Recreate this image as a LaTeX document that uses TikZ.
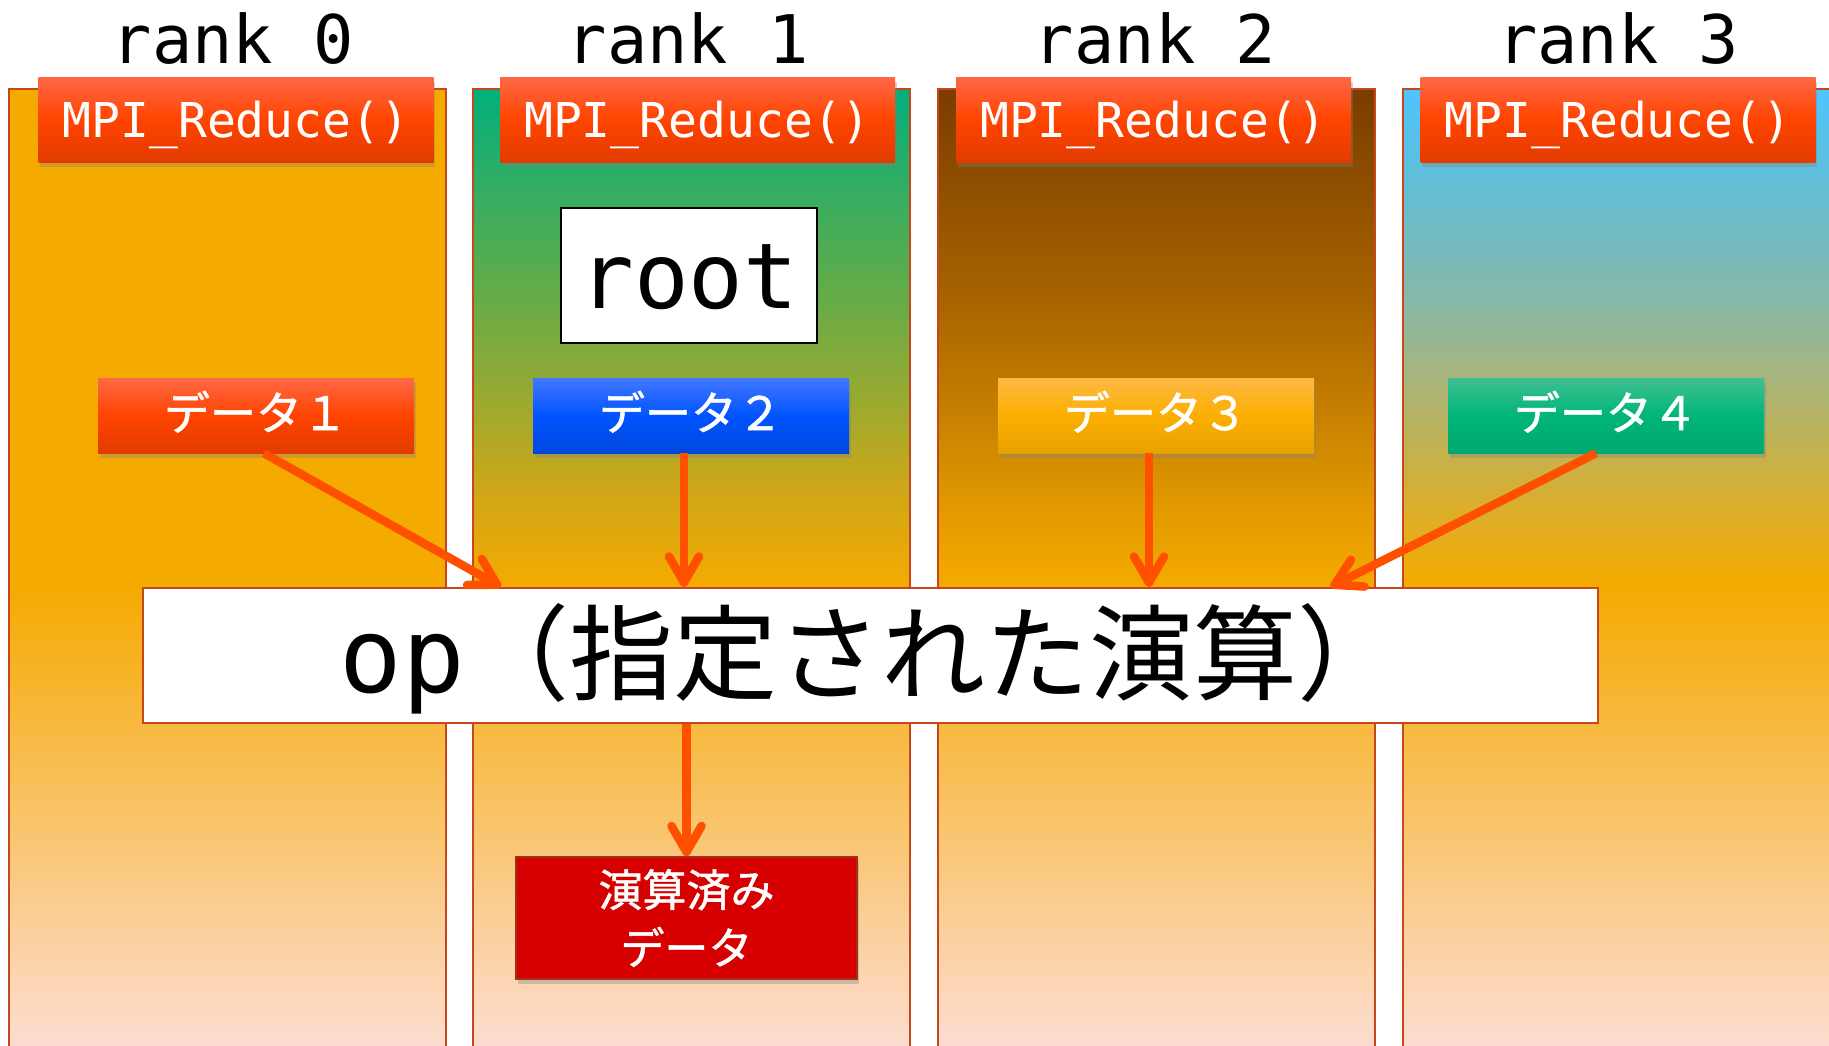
\documentclass[tikz,border=0pt]{standalone}
\usepackage{fontspec}
\newfontfamily\mono{DejaVu Sans Mono}
\newfontfamily\cjk{Noto Sans CJK JP}
\newfontfamily\cjkb[FakeBold=1.2]{Noto Sans CJK JP}
\usetikzlibrary{arrows.meta,shadows}
\definecolor{orA}{HTML}{F5AA00}
\definecolor{lowB}{HTML}{FDDDD2}
\definecolor{colline}{HTML}{C8461C}
\definecolor{arrc}{HTML}{FF5000}
\definecolor{mpiT}{HTML}{FF6846}
\definecolor{mpiM}{HTML}{FF4400}
\definecolor{mpiB}{HTML}{E23B00}
\definecolor{bluT}{HTML}{4477FF}
\definecolor{bluM}{HTML}{0055FF}
\definecolor{bluB}{HTML}{0047DD}
\definecolor{yelT}{HTML}{FDB844}
\definecolor{yelM}{HTML}{FCAF00}
\definecolor{yelB}{HTML}{E8A100}
\definecolor{grnT}{HTML}{40C090}
\definecolor{grnM}{HTML}{00B57A}
\definecolor{grnB}{HTML}{00A870}
\definecolor{resfill}{HTML}{D60000}
\definecolor{resline}{HTML}{A0301A}
\definecolor{g1}{HTML}{00B07A}
\definecolor{g2}{HTML}{35AD63}
\definecolor{g3}{HTML}{62AC48}
\definecolor{g4}{HTML}{95AA33}
\definecolor{g5}{HTML}{CFA718}
\definecolor{b1}{HTML}{7A3C00}
\definecolor{b2}{HTML}{8A4A00}
\definecolor{b3}{HTML}{A86400}
\definecolor{b4}{HTML}{C47C00}
\definecolor{b5}{HTML}{E09800}
\definecolor{c1}{HTML}{4FC4FF}
\definecolor{c2}{HTML}{5CBFE0}
\definecolor{c3}{HTML}{88B8A8}
\definecolor{c4}{HTML}{B0B46E}
\definecolor{c5}{HTML}{D9AE30}
\pgfdeclareverticalshading{shA}{100bp}{color(0bp)=(lowB); color(25bp)=(lowB); color(49.17bp)=(orA); color(75bp)=(orA); color(100bp)=(orA)}
\pgfdeclareverticalshading{shB}{100bp}{color(0bp)=(lowB); color(25bp)=(lowB); color(49.17bp)=(orA); color(54.11bp)=(g5); color(59.30bp)=(g4); color(64.50bp)=(g3); color(69.70bp)=(g2); color(75bp)=(g1); color(100bp)=(g1)}
\pgfdeclareverticalshading{shC}{100bp}{color(0bp)=(lowB); color(25bp)=(lowB); color(49.17bp)=(orA); color(53.59bp)=(b5); color(58.78bp)=(b4); color(63.98bp)=(b3); color(71.26bp)=(b2); color(75bp)=(b1); color(100bp)=(b1)}
\pgfdeclareverticalshading{shD}{100bp}{color(0bp)=(lowB); color(25bp)=(lowB); color(49.17bp)=(orA); color(53.59bp)=(c5); color(58.78bp)=(c4); color(63.98bp)=(c3); color(71.26bp)=(c2); color(75bp)=(c1); color(100bp)=(c1)}
\begin{document}
\begin{tikzpicture}[x=1pt,y=-1pt,
  colbox/.style={draw=colline, line width=2pt, minimum width=437pt, minimum height=962pt, anchor=north west, inner sep=0pt},
  ranklbl/.style={font=\mono\fontsize{67}{80}\selectfont, anchor=base, inner sep=0pt},
  shad/.style={drop shadow={shadow xshift=1.5pt, shadow yshift=-5pt, opacity=.35}},
  mpibox/.style={shad, top color=mpiT, bottom color=mpiB, middle color=mpiM, minimum width=395pt, minimum height=85pt, inner sep=0pt, text=white, font=\mono\fontsize{48}{58}\selectfont, text height=35pt, text depth=0pt},
  databox/.style={shad, minimum width=316pt, minimum height=75pt, inner sep=0pt, text=white, font=\cjkb\fontsize{46}{54}\selectfont, text height=29pt, text depth=0pt},
  arrline/.style={draw=arrc, line width=8.5pt, -{Straight Barb[length=26pt,width=30pt,round]}}
]
\clip (0,0) rectangle (1829,1045);
\fill[white] (0,0) rectangle (1829,1045);
% columns
\node[colbox, shading=shA] (col0) at (8,88) {};
\node[colbox, shading=shB] (col1) at (472,88) {};
\node[colbox, shading=shC] (col2) at (937,88) {};
\node[colbox, shading=shD] (col3) at (1402,88) {};
% rank labels
\node[ranklbl] (r0) at (233,63) {rank 0};
\node[ranklbl] (r1) at (688,63) {rank 1};
\node[ranklbl] (r2) at (1155,63) {rank 2};
\node[ranklbl] (r3) at (1618,63) {rank 3};
% MPI boxes
\node[mpibox] (m0) at (236,119.5) {MPI\_Reduce()};
\node[mpibox] (m1) at (697.5,119.5) {MPI\_Reduce()};
\node[mpibox] (m2) at (1153.5,119.5) {MPI\_Reduce()};
\node[mpibox] (m3) at (1618,119.5) {MPI\_Reduce()};
% root
\node[draw=black, fill=white, line width=1.5pt, minimum width=256pt, minimum height=135pt, inner sep=0pt,
  font=\mono\fontsize{91}{100}\selectfont, text height=65pt, text depth=0pt] (root) at (689,275.5) {root};
% data boxes
\node[databox, top color=mpiT, bottom color=mpiB, middle color=mpiM] (d1) at (256,415.5) {データ１};
\node[databox, top color=bluT, bottom color=bluB, middle color=bluM] (d2) at (691,415.5) {データ２};
\node[databox, top color=yelT, bottom color=yelB, middle color=yelM] (d3) at (1156,415.5) {データ３};
\node[databox, top color=grnT, bottom color=grnB, middle color=grnM] (d4) at (1606,415.5) {データ４};
% op box
\node[draw=colline, fill=white, line width=2.5pt, minimum width=1455pt, minimum height=135pt, inner sep=0pt,
  font=\fontsize{104}{120}\selectfont, text height=73pt, text depth=0pt] (op) at (870.5,655.5) {{\mono op}{\cjk （指定された演算）}};
% result box
\node[shad, draw=resline, fill=resfill, line width=1.5pt, minimum width=341pt, minimum height=122pt, inner sep=0pt,
  text=white, align=center, font=\cjkb\fontsize{44}{58}\selectfont] (res) at (686.5,918) {演算済み\\データ};
% arrows
\coordinate (a1) at ([xshift=8pt]d1.south);
\coordinate (a2) at ([xshift=-7pt]d2.south);
\coordinate (a3) at ([xshift=-7pt]d3.south);
\coordinate (a4) at ([xshift=-10pt]d4.south);
\coordinate (t1) at ([xshift=359pt]op.north west);
\coordinate (t4) at ([xshift=1189pt]op.north west);
\draw[arrline] (a1) -- (t1);
\draw[arrline] (a2) -- (a2 |- op.north);
\draw[arrline] (a3) -- (a3 |- op.north);
\draw[arrline] (a4) -- (t4);
\draw[arrline] (res.north |- op.south) -- (res.north);
\end{tikzpicture}
\end{document}
